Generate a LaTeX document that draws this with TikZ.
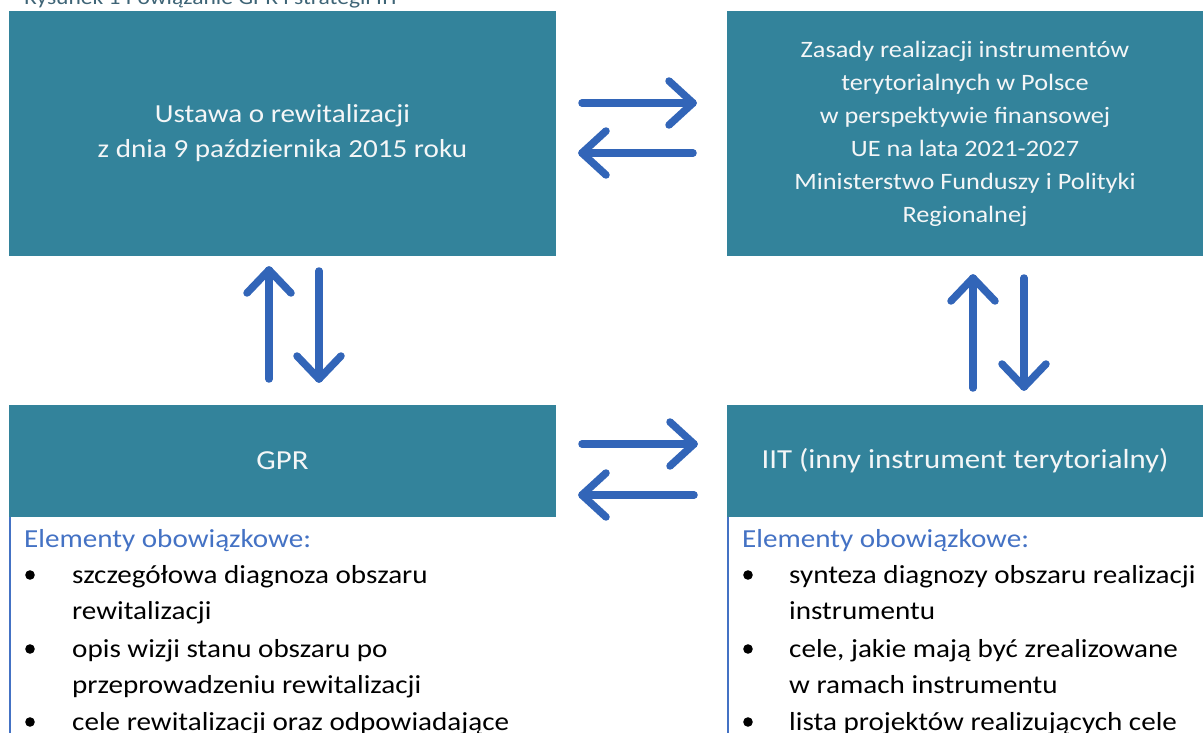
\documentclass[tikz,border=0pt]{standalone}
\usepackage{fontspec}
\setmainfont{Carlito}[FakeStretch=1.12]
\definecolor{teal}{RGB}{51,131,155}
\definecolor{arrowblue}{RGB}{50,101,184}
\definecolor{headblue}{RGB}{68,114,196}
\definecolor{captiongrey}{RGB}{62,100,118}
\definecolor{boxtext}{RGB}{244,246,247}
\begin{document}
\begin{tikzpicture}[x=1pt,y=-1pt,
  box/.style={fill=teal,draw=none,inner sep=0pt,text=boxtext,align=center},
  arr/.style={draw=arrowblue,line width=7.5pt,line cap=round,line join=round},
  head/.style={text=headblue,anchor=base west,inner sep=0pt,font=\fontsize{26}{31}\selectfont},
  item/.style={text=black,anchor=base west,inner sep=0pt,font=\fontsize{26}{31}\selectfont},
  sideline/.style={draw=headblue,line width=2pt}
]
\useasboundingbox (0,0) rectangle (1203,733);

% caption (cut at top)
\node[anchor=base west,inner sep=0pt,text=captiongrey,font=\fontsize{21}{24}\selectfont] (cap) at (24,4.5) {Rysunek 1 Powiązanie GPR i strategii IIT};

% boxes
\node[box,minimum width=547pt,minimum height=245pt,font=\fontsize{26}{35}\selectfont] (ustawa) at (282.5,133.5)
  {Ustawa o rewitalizacji\\z dnia 9 października 2015 roku};
\node[box,minimum width=476pt,minimum height=245pt,font=\fontsize{23.5}{33}\selectfont] (zasady) at (965,133.5)
  {Zasady realizacji instrumentów\\terytorialnych w Polsce\\w perspektywie finansowej\\UE na lata 2021-2027\\Ministerstwo Funduszy i Polityki\\Regionalnej};
\node[box,minimum width=547pt,minimum height=112pt,font=\fontsize{27.5}{35}\selectfont] (gpr) at (282.5,461)
  {GPR};
\node[box,minimum width=476pt,minimum height=112pt,font=\fontsize{27.5}{35}\selectfont] (iit) at (965,461)
  {IIT (inny instrument terytorialny)};

% horizontal arrows top
\coordinate (trs) at (582,103); \coordinate (trt) at (693,103);
\coordinate (tls) at (693,153); \coordinate (tlt) at (582,153);
\draw[arr] (trs) -- (trt);
\draw[arr] ([shift={(-24,-22)}]trt) -- (trt) -- ([shift={(-24,22)}]trt);
\draw[arr] (tls) -- (tlt);
\draw[arr] ([shift={(24,-22)}]tlt) -- (tlt) -- ([shift={(24,22)}]tlt);

% horizontal arrows bottom
\coordinate (brs) at (582,444); \coordinate (brt) at (694,444);
\coordinate (bls) at (694,495); \coordinate (blt) at (582,495);
\draw[arr] (brs) -- (brt);
\draw[arr] ([shift={(-24,-22)}]brt) -- (brt) -- ([shift={(-24,22)}]brt);
\draw[arr] (bls) -- (blt);
\draw[arr] ([shift={(24,-22)}]blt) -- (blt) -- ([shift={(24,22)}]blt);

% vertical arrows left
\coordinate (lus) at (269,379); \coordinate (lut) at (269,270);
\coordinate (lds) at (319,271); \coordinate (ldt) at (319,379);
\draw[arr] (lus) -- (lut);
\draw[arr] ([shift={(-22,23)}]lut) -- (lut) -- ([shift={(22,23)}]lut);
\draw[arr] (lds) -- (ldt);
\draw[arr] ([shift={(-22,-23)}]ldt) -- (ldt) -- ([shift={(22,-23)}]ldt);

% vertical arrows right
\coordinate (rus) at (973,388); \coordinate (rut) at (973,278);
\coordinate (rds) at (1024,278); \coordinate (rdt) at (1024,387);
\draw[arr] (rus) -- (rut);
\draw[arr] ([shift={(-22,23)}]rut) -- (rut) -- ([shift={(22,23)}]rut);
\draw[arr] (rds) -- (rdt);
\draw[arr] ([shift={(-22,-23)}]rdt) -- (rdt) -- ([shift={(22,-23)}]rdt);

% side lines
\coordinate (lla) at (9.5,517); \coordinate (llb) at (9.5,733);
\coordinate (rla) at (727.5,517); \coordinate (rlb) at (727.5,733);
\draw[sideline] (lla) -- (llb);
\draw[sideline] (rla) -- (rlb);

% left list
\node[head] (lh) at (24,547) {Elementy obowiązkowe:};
\fill (30,575) circle (4.8);
\node[item] (l1) at (72,583) {szczegółowa diagnoza obszaru};
\node[item] (l2) at (72,619) {rewitalizacji};
\fill (30,649) circle (4.8);
\node[item] (l3) at (72,657) {opis wizji stanu obszaru po};
\node[item] (l4) at (72,693) {przeprowadzeniu rewitalizacji};
\fill (30,722) circle (4.8);
\node[item] (l5) at (72,730) {cele rewitalizacji oraz odpowiadające};

% right list
\node[head] (rh) at (742,547) {Elementy obowiązkowe:};
\fill (748,575) circle (4.8);
\node[item] (r1) at (789,583) {synteza diagnozy obszaru realizacji};
\node[item] (r2) at (789,619) {instrumentu};
\fill (748,649) circle (4.8);
\node[item] (r3) at (789,657) {cele, jakie mają być zrealizowane};
\node[item] (r4) at (789,693) {w ramach instrumentu};
\fill (748,722) circle (4.8);
\node[item] (r5) at (789,730) {lista projektów realizujących cele};
\end{tikzpicture}
\end{document}
